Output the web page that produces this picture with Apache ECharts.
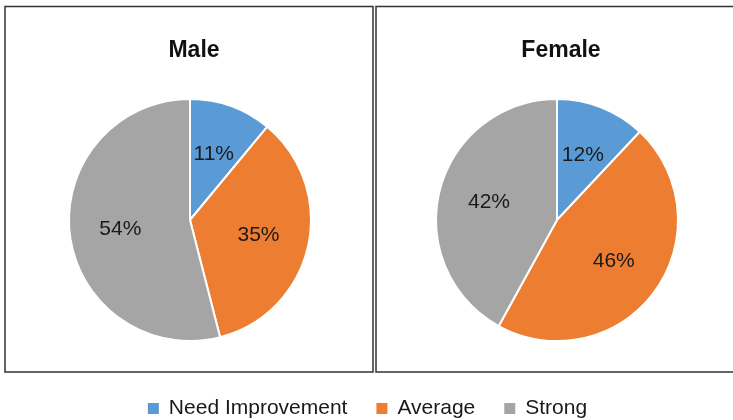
<!DOCTYPE html>
<html>
<head>
<meta charset="utf-8">
<script src="https://cdn.jsdelivr.net/npm/echarts@6/dist/echarts.min.js"></script>
<style>
  html, body { margin: 0; padding: 0; background: #fff; }
  #chart { width: 733px; height: 420px; }
</style>
</head>
<body>
<div id="chart"></div>
<script>
// Performance categories and the share of each group in them (%)
const categories = ['Need Improvement', 'Average', 'Strong'];
const groups = ['Male', 'Female'];
const maleValues = [11, 35, 54];
const femaleValues = [12, 46, 42];

const colors = ['#5b9bd5', '#ed7d31', '#a5a5a5'];
const centers = [[190, 220], [557, 220]];
const radius = 121;
const labelFrac = 0.58;
const fontFamily = 'Liberation Sans, Arial, Helvetica, sans-serif';

function pieSeries(name, values, center) {
  const total = values.reduce((a, b) => a + b, 0);
  // mid-angle of each slice, measured clockwise from 12 o'clock
  const mids = [];
  let acc = 0;
  values.forEach(v => { mids.push((acc + v / 2) / total * 2 * Math.PI); acc += v; });
  return {
    name: name,
    type: 'pie',
    center: center,
    radius: radius,
    startAngle: 90,
    clockwise: true,
    animation: false,
    itemStyle: { borderColor: '#fff', borderWidth: 2 },
    label: {
      show: true,
      position: 'inside',
      formatter: '{c}%',
      color: '#1a1a1a',
      fontSize: 21,
      fontFamily: fontFamily
    },
    labelLine: { show: false },
    labelLayout: function (p) {
      const a = mids[p.dataIndex];
      return {
        x: center[0] + Math.sin(a) * radius * labelFrac,
        y: center[1] - Math.cos(a) * radius * labelFrac,
        align: 'center',
        verticalAlign: 'middle'
      };
    },
    emphasis: { disabled: true },
    data: categories.map((c, i) => ({ name: c, value: values[i] }))
  };
}

const chart = echarts.init(document.getElementById('chart'), null, { renderer: 'canvas' });
chart.setOption({
  color: colors,
  backgroundColor: '#fff',
  title: groups.map((g, i) => ({
    text: g,
    left: centers[i][0] - 1,
    top: 34,
    textAlign: 'center',
    textStyle: {
      fontSize: 23,
      fontWeight: 'bold',
      color: '#111',
      fontFamily: fontFamily
    }
  })),
  legend: {
    data: categories,
    top: 393,
    left: 'center',
    icon: 'rect',
    itemWidth: 13,
    itemHeight: 13,
    itemGap: 27,
    textStyle: {
      fontSize: 21,
      color: '#1a1a1a',
      padding: [0, 0, 0, 4],
      fontFamily: fontFamily
    }
  },
  graphic: [
    {
      type: 'rect',
      shape: { x: 5, y: 6.5, width: 368, height: 365.5 },
      style: { fill: 'none', stroke: '#333', lineWidth: 1.5 },
      z: -1
    },
    {
      type: 'rect',
      shape: { x: 376, y: 6.5, width: 370, height: 365.5 },
      style: { fill: 'none', stroke: '#333', lineWidth: 1.5 },
      z: -1
    }
  ],
  series: [
    pieSeries(groups[0], maleValues, centers[0]),
    pieSeries(groups[1], femaleValues, centers[1])
  ]
});
</script>
</body>
</html>
